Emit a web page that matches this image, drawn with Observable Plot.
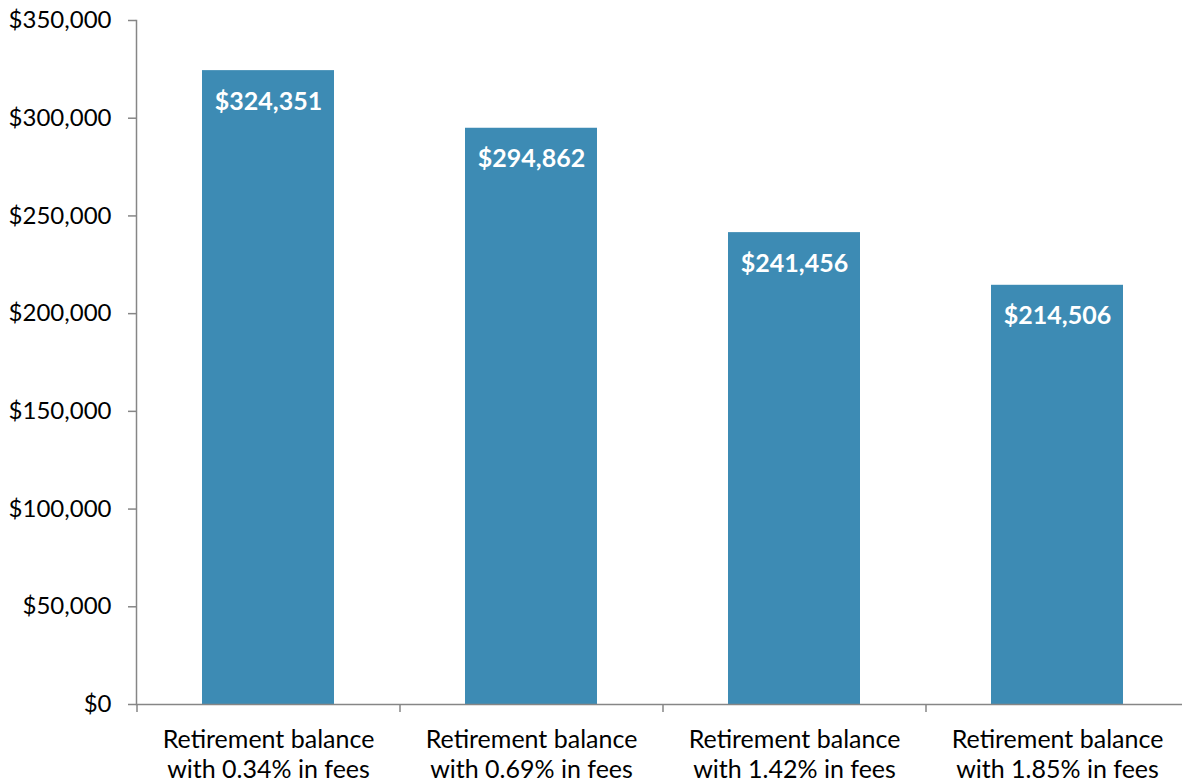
<!DOCTYPE html>
<html>
<head>
<meta charset="utf-8">
<script src="https://cdn.jsdelivr.net/npm/d3@7"></script>
<script src="https://cdn.jsdelivr.net/npm/@observablehq/plot@0.6"></script>
<style>
  html, body { margin: 0; padding: 0; background: #fff; overflow: hidden; }
  #chart svg { display: block; }
</style>
</head>
<body>
<div id="chart"></div>
<script>
const categories = [
  "Retirement balance\nwith 0.34% in fees",
  "Retirement balance\nwith 0.69% in fees",
  "Retirement balance\nwith 1.42% in fees",
  "Retirement balance\nwith 1.85% in fees"
];
const values = [324351, 294862, 241456, 214506];
const yTicks = [0, 50000, 100000, 150000, 200000, 250000, 300000, 350000];

const data = categories.map((c, i) => ({category: c, value: values[i]}));

const W = 1182, H = 782;
const mL = 136, mR = -6, mT = 20, mB = 78;
const step = (W - mL - mR) / categories.length;
const font = "Lato, 'Open Sans', sans-serif";
const axisColor = "#868686";
const barColor = "#3D8BB4";
const fmt = d3.format("$,");

const chart = Plot.plot({
  width: W,
  height: H,
  marginLeft: mL,
  marginRight: mR,
  marginTop: mT,
  marginBottom: mB,
  style: {fontFamily: font, fontSize: "24px", color: "#000", background: "#fff"},
  x: {domain: categories, paddingInner: 0.5, paddingOuter: 0.25, label: null},
  y: {domain: [0, 350000], label: null},
  marks: [
    Plot.barY(data, {x: "category", y: "value", fill: barColor}),
    Plot.ruleY([0], {stroke: axisColor, strokeWidth: 1.5}),
    Plot.frame({anchor: "left", stroke: axisColor, strokeWidth: 1.5}),
    Plot.axisY({ticks: yTicks, tickFormat: fmt, tickSize: 8, tickPadding: 17,
      stroke: axisColor, strokeWidth: 1.5, fill: "#000", fontSize: 24, label: null}),
    Plot.axisX({tickSize: 8, dx: -step / 2, tickFormat: () => "", stroke: axisColor, strokeWidth: 1.5, label: null}),
    Plot.axisX({tickSize: 0, tickPadding: 22, fill: "#000", fontSize: 25, lineHeight: 1.2, label: null}),
    Plot.text(data, {x: "category", y: "value", text: d => fmt(d.value), dy: 31,
      fill: "white", fontWeight: "bold", fontSize: 25})
  ]
});
document.getElementById("chart").appendChild(chart);
</script>
</body>
</html>
